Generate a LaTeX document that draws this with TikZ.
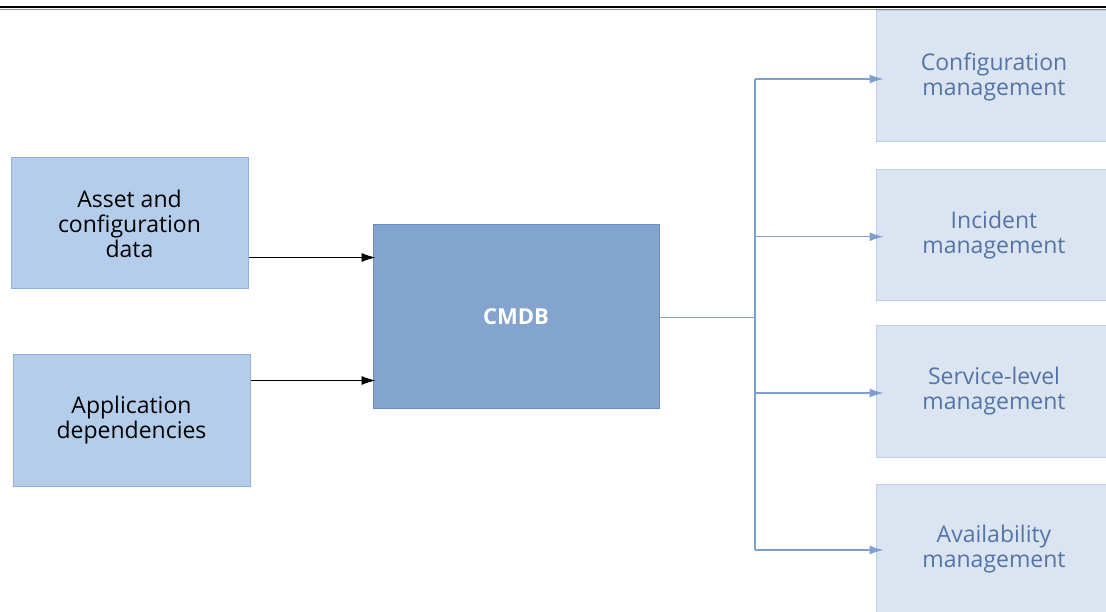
\documentclass[tikz,border=0pt]{standalone}
\usepackage{fontspec}
\setmainfont{Open Sans}
\usetikzlibrary{arrows.meta}
\definecolor{leftfill}{HTML}{B4CDEB}
\definecolor{leftdraw}{HTML}{8FB0DC}
\definecolor{cmdbfill}{HTML}{82A4CF}
\definecolor{cmdbdraw}{HTML}{6A8DBD}
\definecolor{rightfill}{HTML}{DAE5F1}
\definecolor{rightdraw}{HTML}{BACFEA}
\definecolor{righttext}{HTML}{5473A6}
\definecolor{bluearrow}{HTML}{7E9FD0}
\begin{document}
\begin{tikzpicture}[x=1pt,y=-1pt,
  every node/.style={font=\fontsize{23}{25}\selectfont, align=center, inner sep=0pt},
  srcbox/.style={draw=leftdraw, fill=leftfill, line width=1pt, text=black},
  cmdbbox/.style={draw=cmdbdraw, fill=cmdbfill, line width=1pt, text=white, font=\fontsize{22}{25}\selectfont\bfseries},
  tgtbox/.style={draw=rightdraw, fill=rightfill, line width=1pt, text=righttext},
  inarrow/.style={-{Latex[length=14pt,width=9pt]}, line width=0.9pt, black},
  outline/.style={line width=1.3pt, bluearrow},
  outarrow/.style={-{Latex[length=14pt,width=9pt]}, line width=1.3pt, bluearrow}]
\useasboundingbox (0,0) rectangle (1106,612);
\begin{scope}
\clip (0,0) rectangle (1106,612);
% top rule
\draw[line width=1.6pt, black] (0,7) -- (1106,7);
\draw[line width=0.5pt, black!45] (0,9.2) -- (1106,9.2);
% source boxes
\node[srcbox, minimum width=237pt, minimum height=131pt] (asset) at (129.5,223.5) {Asset and\\configuration\\data};
\node[srcbox, minimum width=237pt, minimum height=131pt] (app) at (131.5,420.5) {Application\\dependencies};
% CMDB
\node[cmdbbox, minimum width=286pt, minimum height=183pt] (cmdb) at (516,316.5) {CMDB};
% targets
\node[tgtbox, minimum width=236pt, minimum height=131pt] (conf) at (994,76.5) {Configuration\\management};
\node[tgtbox, minimum width=236pt, minimum height=131pt] (inc) at (994,235.5) {Incident\\management};
\node[tgtbox, minimum width=236pt, minimum height=131pt] (slm) at (994,391.5) {Service-level\\management};
\node[tgtbox, minimum width=236pt, minimum height=131pt] (avail) at (994,549.5) {Availability\\management};
% input arrows
\draw[inarrow] (asset.east |- 0,257.5) -- ([xshift=3pt]cmdb.west |- 0,257.5);
\draw[inarrow] (app.east |- 0,380.5) -- ([xshift=3pt]cmdb.west |- 0,380.5);
% output tree
\coordinate (split) at (755,317.3);
\coordinate (top) at (755,79);
\coordinate (bot) at (755,550);
\draw[outline] (cmdb.east |- split) -- (split);
\draw[outline] (top) -- (bot);
\draw[outarrow] (top) -- ([xshift=8pt]conf.west |- top);
\draw[outarrow] (755,236.7) -- ([xshift=8pt]inc.west |- 0,236.7);
\draw[outarrow] (755,393) -- ([xshift=8pt]slm.west |- 0,393);
\draw[outarrow] (bot) -- ([xshift=8pt]avail.west |- bot);
\end{scope}
\end{tikzpicture}
\end{document}
